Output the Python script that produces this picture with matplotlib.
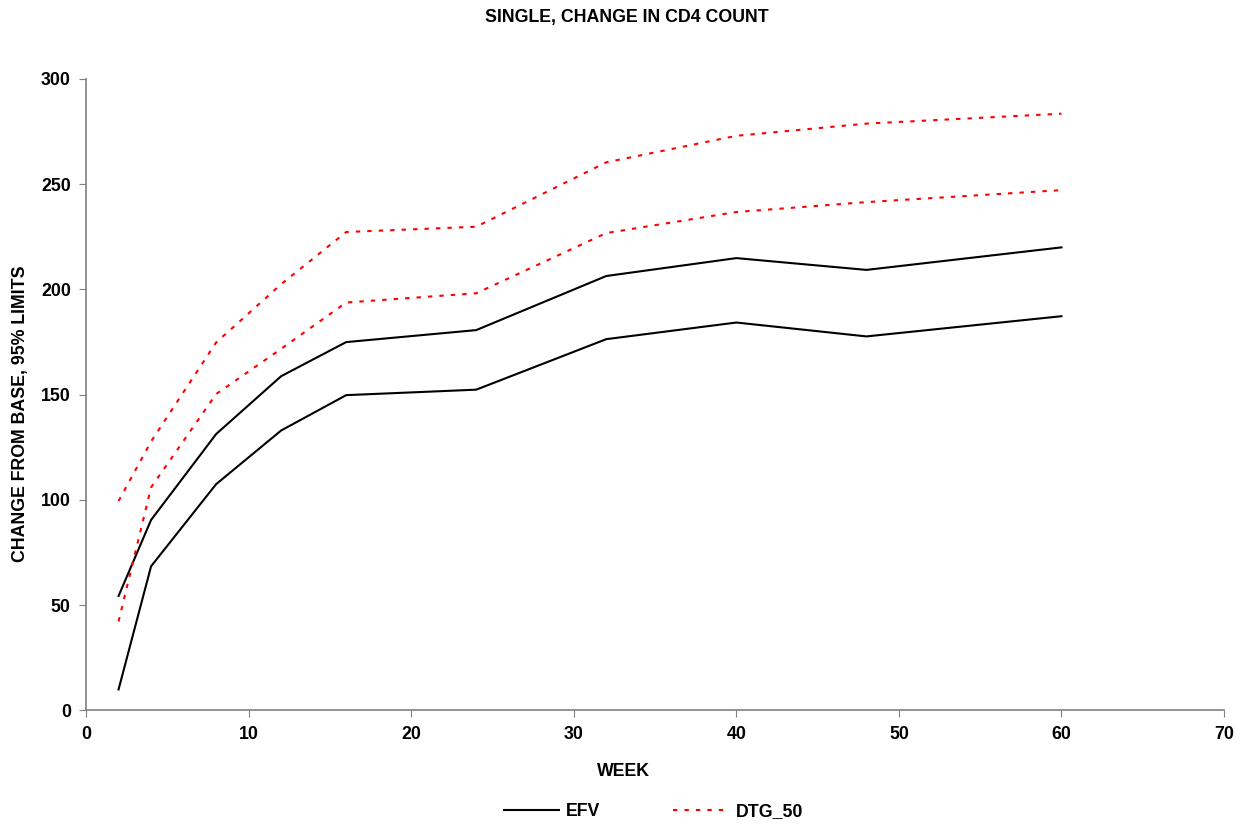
import matplotlib
matplotlib.use("Agg")
import matplotlib.pyplot as plt
from matplotlib.lines import Line2D

plt.rcParams['font.family'] = ['Liberation Sans', 'DejaVu Sans']
plt.rcParams['font.weight'] = 'bold'

weeks = [2, 4, 8, 12, 16, 24, 32, 40, 48, 60]
efv_upper = [54.4, 90.5, 131.3, 158.8, 175.0, 180.7, 206.4, 214.9, 209.3, 220.0]
efv_lower = [10.0, 68.5, 107.5, 133.0, 149.8, 152.4, 176.4, 184.3, 177.7, 187.3]
dtg_upper = [99.5, 127.8, 174.8, 202.5, 227.3, 229.8, 260.4, 273.0, 278.8, 283.5]
dtg_lower = [42.3, 106.0, 150.3, 171.8, 193.8, 198.2, 226.8, 236.8, 241.5, 247.2]

title = "SINGLE, CHANGE IN CD4 COUNT"
xlabel = "WEEK"
ylabel = "CHANGE FROM BASE, 95% LIMITS"
series_names = ["EFV", "DTG_50"]

FS = 12.8
DASH = (0, (2.1, 3.4))

fig = plt.figure(figsize=(12.47, 8.27), dpi=100)
ax = fig.add_axes([0.069, 0.1409, 0.9126, 0.7636])

ax.plot(weeks, efv_upper, color='black', lw=1.5)
ax.plot(weeks, efv_lower, color='black', lw=1.5)
ax.plot(weeks, dtg_upper, color='red', lw=1.5, linestyle=DASH)
ax.plot(weeks, dtg_lower, color='red', lw=1.5, linestyle=DASH)

ax.set_xlim(0, 70)
ax.set_ylim(0, 300)
ax.set_xticks(range(0, 71, 10))
ax.set_yticks(range(0, 301, 50))
for s in ['top', 'right']:
    ax.spines[s].set_visible(False)
for s in ['left', 'bottom']:
    ax.spines[s].set_color('#808080')
    ax.spines[s].set_linewidth(1.2)
ax.tick_params(axis='both', direction='out', length=5, color='#808080',
               labelsize=FS, pad=6)
for lab in ax.get_xticklabels() + ax.get_yticklabels():
    lab.set_fontweight('bold')

fig.text(0.503, 0.979, title, ha='center', va='center', fontsize=FS, fontweight='bold')
fig.text(0.5, 0.067, xlabel, ha='center', va='center', fontsize=FS, fontweight='bold')
fig.text(0.0165, 0.5, ylabel, ha='center', va='center', rotation=90, fontsize=FS, fontweight='bold')

handles = [Line2D([], [], color='black', lw=1.5),
           Line2D([], [], color='red', lw=1.5, linestyle=DASH)]
fig.legend(handles, series_names, loc='center', bbox_to_anchor=(0.524, 0.019),
           ncol=2, frameon=False, handlelength=3.1,
           columnspacing=4.1, handletextpad=0.4,
           prop={'weight': 'bold', 'size': FS})

fig.savefig("out.png", dpi=100)
